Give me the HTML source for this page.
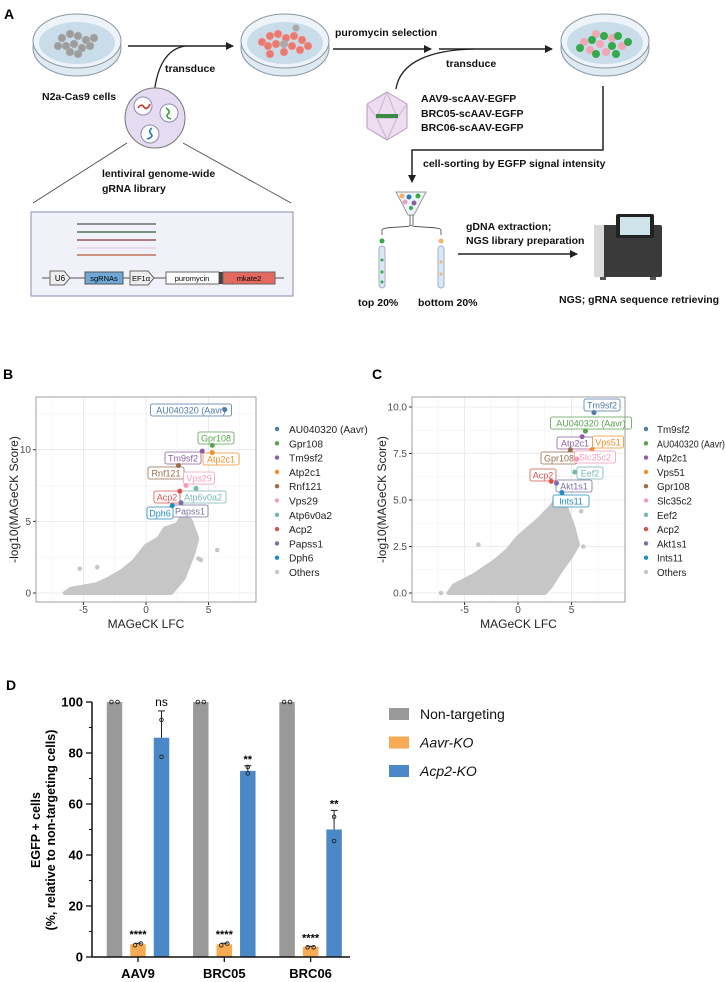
<!DOCTYPE html>
<html><head><meta charset="utf-8"><style>
html,body{margin:0;padding:0;background:#fff}
svg{display:block;font-family:"Liberation Sans",Arial,sans-serif}
.nb{font-family:"Liberation Sans Narrow","Liberation Sans",sans-serif;font-weight:bold;font-size:10.5px;fill:#111}
</style></head><body>
<svg id="fig" width="726" height="982" viewBox="0 0 726 982" xmlns="http://www.w3.org/2000/svg">
<defs>
<marker id="ah" markerWidth="8" markerHeight="8" refX="7" refY="4" orient="auto" markerUnits="userSpaceOnUse"><path d="M0,0 L8,4 L0,8 Z" fill="#222"/></marker>
</defs>
<!-- PANEL A -->
<g>
<text x="4" y="19" font-size="14" font-weight="bold">A</text>
<g>
<ellipse cx="77" cy="48" rx="44" ry="28" fill="#dfe9f1" stroke="#8a97a3"/>
<ellipse cx="77" cy="41" rx="44" ry="27" fill="#edf3f8" stroke="#8a97a3"/>
<ellipse cx="77" cy="43" rx="38" ry="21" fill="#c9dcea"/>
<g fill="#9d9d9d" stroke="#bbb" stroke-width="0.5"><circle cx="62" cy="38" r="4"/><circle cx="70" cy="34" r="4"/><circle cx="78" cy="36" r="4"/><circle cx="86" cy="40" r="4"/><circle cx="66" cy="46" r="4"/><circle cx="74" cy="44" r="4"/><circle cx="82" cy="48" r="4"/><circle cx="90" cy="46" r="4"/><circle cx="58" cy="46" r="4"/><circle cx="70" cy="52" r="4"/><circle cx="78" cy="54" r="4"/><circle cx="94" cy="38" r="4"/></g>
</g>
<line x1="128" y1="46" x2="233" y2="46" stroke="#222" stroke-width="1.5" marker-end="url(#ah)"/>
<path d="M153,116 C153,80 160,50 185,46" fill="none" stroke="#222" stroke-width="1.3"/>
<text x="165" y="72" class="nb">transduce</text>
<text x="42" y="100" class="nb">N2a-Cas9 cells</text>
<g>
<ellipse cx="285" cy="48" rx="44" ry="28" fill="#dfe9f1" stroke="#8a97a3"/>
<ellipse cx="285" cy="41" rx="44" ry="27" fill="#edf3f8" stroke="#8a97a3"/>
<ellipse cx="285" cy="43" rx="38" ry="21" fill="#c9dcea"/>
<g fill="#e87a72" stroke="#f4b0aa" stroke-width="0.5"><circle cx="262" cy="42" r="4"/><circle cx="270" cy="36" r="4"/><circle cx="278" cy="34" r="4"/><circle cx="286" cy="38" r="4"/><circle cx="294" cy="36" r="4"/><circle cx="302" cy="40" r="4"/><circle cx="268" cy="46" r="4"/><circle cx="276" cy="44" r="4"/><circle cx="292" cy="46" r="4"/><circle cx="300" cy="50" r="4"/><circle cx="270" cy="54" r="4"/><circle cx="284" cy="52" r="4"/><circle cx="308" cy="46" r="4"/></g>
<g fill="#aaa"><circle cx="284" cy="44" r="4"/><circle cx="296" cy="28" r="3.5"/></g>
</g>
<text x="335" y="36" class="nb">puromycin selection</text>
<line x1="333" y1="49" x2="431" y2="49" stroke="#222" stroke-width="1.5" marker-end="url(#ah)"/>
<line x1="439" y1="49" x2="552" y2="49" stroke="#222" stroke-width="1.5" marker-end="url(#ah)"/>
<path d="M396,89 C400,62 430,50 474,49" fill="none" stroke="#222" stroke-width="1.3"/>
<text x="446" y="67" class="nb">transduce</text>
<g>
<ellipse cx="605" cy="48" rx="44" ry="28" fill="#dfe9f1" stroke="#8a97a3"/>
<ellipse cx="605" cy="41" rx="44" ry="27" fill="#edf3f8" stroke="#8a97a3"/>
<ellipse cx="605" cy="43" rx="38" ry="21" fill="#c9dcea"/>
<g fill="#f2a6b4"><circle cx="584" cy="42" r="4"/><circle cx="596" cy="34" r="4"/><circle cx="612" cy="38" r="4"/><circle cx="622" cy="46" r="4"/><circle cx="590" cy="50" r="4"/><circle cx="606" cy="52" r="4"/><circle cx="600" cy="44" r="4"/></g>
<g fill="#36a94a"><circle cx="592" cy="40" r="4"/><circle cx="604" cy="36" r="4"/><circle cx="618" cy="36" r="4"/><circle cx="612" cy="46" r="4"/><circle cx="628" cy="42" r="4"/><circle cx="596" cy="54" r="4"/><circle cx="580" cy="48" r="4"/><circle cx="616" cy="54" r="4"/></g>
</g>
<g>
<circle cx="155" cy="118" r="30" fill="#e6dcf2" stroke="#777"/>
<circle cx="143" cy="106" r="9" fill="#fff" stroke="#8a8ab0"/><path d="M138,108 q3,-5 6,-1 t6,-3" stroke="#c0392b" stroke-width="1.6" fill="none"/>
<circle cx="169" cy="113" r="9" fill="#fff" stroke="#8a8ab0"/><path d="M166,108 q5,3 2,6 t3,5" stroke="#3a9a45" stroke-width="1.6" fill="none"/>
<circle cx="150" cy="134" r="9" fill="#fff" stroke="#8a8ab0"/><path d="M152,128 q-4,3 -1,6 t-4,5" stroke="#2b7bb9" stroke-width="1.6" fill="none"/>
</g>
<line x1="127" y1="143" x2="33" y2="203" stroke="#444" stroke-width="0.8"/>
<line x1="183" y1="143" x2="291" y2="203" stroke="#444" stroke-width="0.8"/>
<text x="102" y="177" class="nb">lentiviral genome-wide</text>
<text x="102" y="192" class="nb">gRNA library</text>
<g>
<rect x="31" y="212" width="262" height="84" fill="#f1f1f9" stroke="#8b8bb5"/>
<line x1="77" y1="224" x2="156" y2="224" stroke="#555" stroke-width="1.3"/>
<line x1="77" y1="232" x2="156" y2="232" stroke="#2d5a3a" stroke-width="1.3"/>
<line x1="77" y1="240" x2="156" y2="240" stroke="#8a3a3a" stroke-width="1.3"/>
<line x1="77" y1="248" x2="156" y2="248" stroke="#e7c9e3" stroke-width="1.3"/>
<line x1="77" y1="255" x2="156" y2="255" stroke="#b55a3a" stroke-width="1.3"/>
<line x1="42" y1="278" x2="284" y2="278" stroke="#555"/>
<path d="M50,271 h14 l6,7 l-6,7 h-14 z" fill="#eee" stroke="#666"/><text x="60" y="281" font-size="8" text-anchor="middle">U6</text>
<rect x="85" y="272" width="38" height="12" fill="#6fa8d6" stroke="#555"/><text x="104" y="281" font-size="7.5" text-anchor="middle">sgRNAs</text>
<path d="M130,271 h18 l6,7 l-6,7 h-18 z" fill="#eee" stroke="#666"/><text x="141" y="281" font-size="7.5" text-anchor="middle">EF1α</text>
<rect x="166" y="272" width="53" height="12" fill="#fff" stroke="#666"/><text x="192" y="281" font-size="7.5" text-anchor="middle">puromycin</text>
<rect x="219" y="272" width="4" height="12" fill="#444"/>
<rect x="223" y="272" width="52" height="12" fill="#e46a60" stroke="#666"/><text x="249" y="281" font-size="7.5" text-anchor="middle">mkate2</text>
</g>
<g>
<polygon points="387,92 407,104 407,128 387,140 367,128 367,104" fill="#eedcf0" stroke="#b79bc0"/>
<path d="M387,92 L377,118 L397,118 Z M377,118 L387,140 L397,118 M367,104 L377,118 M407,104 L397,118" stroke="#c9b2cf" fill="none"/>
<rect x="376" y="114" width="22" height="4" fill="#3a8a45"/>
</g>
<text x="421" y="102" class="nb">AAV9-scAAV-EGFP</text>
<text x="421" y="117" class="nb">BRC05-scAAV-EGFP</text>
<text x="421" y="131" class="nb">BRC06-scAAV-EGFP</text>
<path d="M603,86 V150 H412 V182" fill="none" stroke="#222" stroke-width="1.5" marker-end="url(#ah)"/>
<text x="423" y="167" class="nb">cell-sorting by EGFP signal intensity</text>
<g>
<path d="M396,192 L426,192 L414,215 L408,215 Z" fill="#eef3f8" stroke="#999"/>
<circle cx="402" cy="196" r="2.5" fill="#f6b26b"/><circle cx="409" cy="197" r="2.5" fill="#2b7bb9"/><circle cx="418" cy="196" r="2.5" fill="#36a94a"/><circle cx="405" cy="202" r="2.5" fill="#e9a0c0"/><circle cx="414" cy="203" r="2.5" fill="#8e5fa0"/><circle cx="411" cy="208" r="2" fill="#36a94a"/>
<path d="M410,215 V225 M413,215 V225 M411,225 C411,228 382,226 382,230 V235 M411,225 C411,228 441,226 441,230 V235" stroke="#444" fill="none" stroke-width="0.8"/>
</g>
<g><circle cx="382" cy="241" r="2.5" fill="#36a94a"/><rect x="379" y="246" width="6" height="42" rx="3" fill="#d6eaf4" stroke="#aac"/><circle cx="382" cy="260" r="1.5" fill="#36a94a"/><circle cx="382" cy="272" r="1.5" fill="#36a94a"/><circle cx="382" cy="282" r="1.5" fill="#36a94a"/></g>
<g><circle cx="441" cy="241" r="2.5" fill="#f6b26b"/><rect x="438" y="246" width="6" height="42" rx="3" fill="#d6eaf4" stroke="#aac"/><circle cx="441" cy="262" r="1.5" fill="#f6b26b"/><circle cx="441" cy="274" r="1.5" fill="#f6b26b"/></g>
<text x="358" y="306" class="nb">top 20%</text>
<text x="418" y="306" class="nb">bottom 20%</text>
<text x="466" y="230" class="nb">gDNA extraction;</text>
<text x="466" y="244" class="nb">NGS library preparation</text>
<line x1="458" y1="254" x2="577" y2="254" stroke="#222" stroke-width="1.5" marker-end="url(#ah)"/>
<g>
<rect x="594" y="225" width="68" height="52" rx="2" fill="#3a3a3a"/>
<rect x="594" y="225" width="10" height="52" fill="#d9d9d9"/>
<rect x="616" y="214" width="38" height="24" rx="2" fill="#222"/>
<rect x="620" y="217" width="30" height="18" fill="#cfe3ea"/>
<rect x="600" y="277" width="6" height="3" fill="#555"/><rect x="650" y="277" width="6" height="3" fill="#555"/>
</g>
<text x="559" y="303" class="nb">NGS; gRNA sequence retrieving</text>
</g>
<g id="panelB"></g>
<g id="panelC"></g>
<g id="panelD"></g>
</svg>
<script>
// ---------- Panel B data ----------
const bGenes = ["AU040320 (Aavr)","Gpr108","Tm9sf2","Atp2c1","Rnf121","Vps29","Atp6v0a2","Acp2","Papss1","Dph6"];
const bLFC = [6.3,5.3,4.5,5.3,2.6,3.2,4.0,2.7,2.8,2.1];
const bScore = [12.8,10.3,9.9,9.8,8.9,7.5,7.3,7.1,6.3,6.1];
const bCloudLFC = [-6.5,2,3,3.8,4.1,3.6,3,2.5,1.5,1,0,-1,-2,-3,-4,-6];
const bCloudScore = [0,0,1,2.8,3.8,5,5.5,4.8,4.5,3.8,3.3,2.2,1.5,1,0.6,0.3];
const bOutLFC = [-5.3,-3.9,5.7,4.2,-6.2,4.4,3.5];
const bOutScore = [1.7,1.8,3.0,2.4,0.1,2.3,5.1];
const bXTicks = [-5,0,5];
const bYTicks = [0,5,10];
// ---------- Panel C data ----------
const cGenes = ["Tm9sf2","AU040320 (Aavr)","Atp2c1","Vps51","Gpr108","Slc35c2","Eef2","Acp2","Akt1s1","Ints11"];
const cLFC = [7.1,6.3,6.0,6.9,4.9,5.5,5.3,3.1,3.6,4.1];
const cScore = [9.7,8.7,8.4,7.7,7.7,7.2,6.5,6.0,5.9,5.4];
const cCloudLFC = [-6.5,2.5,3,4,5,5.6,5.2,4.5,3.8,3,2,1,0,-1,-2,-4,-6];
const cCloudScore = [0,0,0.3,1.2,2,2.6,3.5,4.6,5.2,4.6,4.0,3.5,3.0,2.3,1.8,1.0,0.4];
const cOutLFC = [-7.2,-3.7,6.1,5.0,5.9,-5.5];
const cOutScore = [0,2.6,2.5,3.8,4.4,0.5];
const cXTicks = [-5,0,5];
const cYTicks = [0,2.5,5,7.5,10];
const cYTickLabels = ["0.0","2.5","5.0","7.5","10.0"];
// ---------- Panel D data ----------
const dGroups = ["AAV9","BRC05","BRC06"];
const dSeries = ["Non-targeting","Aavr-KO","Acp2-KO"];
const dNonTargeting = [100,100,100];
const dAavr = [5,5,4];
const dAcp2 = [86,73,50];
const dNonTargetingSD = [0,0,0];
const dAavrSD = [0.4,0.4,0.2];
const dAcp2SD = [10.5,2,7.5];
const dNonTargetingPts = [[100,100],[100,100],[100,100]];
const dAavrPts = [[4.6,5.3],[4.6,5.3],[3.8,3.8]];
const dAcp2Pts = [[93,78.5],[74.5,72],[55,45.5]];
const dAavrSig = ["****","****","****"];
const dAcp2Sig = ["ns","**","**"];
const dYTicks = [0,20,40,60,80,100];

const NS="http://www.w3.org/2000/svg";
function mk(parent,tag,attrs,text){const e=document.createElementNS(NS,tag);for(const k in attrs)e.setAttribute(k,attrs[k]);if(text!==undefined)e.textContent=text;parent.appendChild(e);return e;}
const geneColors=["#4e79a7","#59a14f","#8e5fa0","#f28e2b","#9c6b4e","#f59ab8","#76b7b2","#d9534f","#7a6fa8","#1f8bc4"];

function scatter(g,cfg){
  const xs=v=>cfg.px0+v*cfg.pxu, ys=v=>cfg.py0-v*cfg.pyu;
  const b=cfg.box;
  mk(g,'rect',{x:b[0],y:b[1],width:b[2]-b[0],height:b[3]-b[1],fill:'#fff'});
  for(let i=0;i<cfg.xt.length;i++){const v=cfg.xt[i]; [v-2.5,v+2.5].forEach(m=>{const X=xs(m);if(X>b[0]&&X<b[2])mk(g,'line',{x1:X,x2:X,y1:b[1],y2:b[3],stroke:'#f2f2f2','stroke-width':0.6});});}
  for(let i=0;i<cfg.yt.length;i++){const m=cfg.yt[i]+cfg.ystep/2;const Y=ys(m);if(Y>b[1]&&Y<b[3])mk(g,'line',{x1:b[0],x2:b[2],y1:Y,y2:Y,stroke:'#f2f2f2','stroke-width':0.6});}
  cfg.xt.forEach(v=>{const X=xs(v);mk(g,'line',{x1:X,x2:X,y1:b[1],y2:b[3],stroke:'#e6e6e6','stroke-width':0.8});
    const t=mk(g,'text',{x:X,y:b[3]+11,'font-size':10,fill:'#4d4d4d','text-anchor':'middle'},String(v));
    
    mk(g,'line',{x1:X,x2:X,y1:b[3],y2:b[3]+3,stroke:'#333'});});
  cfg.yt.forEach((v,i)=>{const Y=ys(v);mk(g,'line',{x1:b[0],x2:b[2],y1:Y,y2:Y,stroke:'#e6e6e6','stroke-width':0.8});
    const t=mk(g,'text',{x:b[0]-5,y:Y+3.5,'font-size':10,fill:'#4d4d4d','text-anchor':'end'},cfg.ytl[i]);
    
    mk(g,'line',{x1:b[0]-3,x2:b[0],y1:Y,y2:Y,stroke:'#333'});});
  const pts=cfg.cx.map((v,i)=>xs(v)+','+ys(cfg.cy[i])).join(' ');
  const poly=mk(g,'polygon',{points:pts,fill:'#c6c6c6',stroke:'#c6c6c6','stroke-width':4,'stroke-linejoin':'round'});
  
  cfg.ox.forEach((v,i)=>{const c=mk(g,'circle',{cx:xs(v),cy:ys(cfg.oy[i]),r:2.3,fill:'#c6c6c6'});
    });
  cfg.genes.forEach((n,i)=>{const X=xs(cfg.gx[i]),Y=ys(cfg.gy[i]);const col=geneColors[i];
    const L=cfg.lab[i];const w=n.length*5+6;
    mk(g,'line',{x1:X,y1:Y,x2:L[0],y2:L[1],stroke:col,'stroke-width':0.7});
    const r=mk(g,'rect',{x:L[0]-w/2,y:L[1]-6,width:w,height:12,rx:2,fill:'#fff',stroke:col,'stroke-width':0.8});
    
    mk(g,'text',{x:L[0],y:L[1]+3.5,'font-size':9,fill:col,'text-anchor':'middle'},n);
    const c=mk(g,'circle',{cx:X,cy:Y,r:2.5,fill:col});
    
    const lc=mk(g,'circle',{cx:cfg.legX,cy:429+i*14.3,r:2.2,fill:col});
    
    const la={x:cfg.legX+cfg.legGap,y:433+i*14.3,'font-size':cfg.legFont,fill:'#222'};
    if(n.length>12&&cfg.maxLen){la.textLength=cfg.maxLen;la.lengthAdjust='spacingAndGlyphs';}
    const lt=mk(g,'text',la,n);
    });
  const oc=mk(g,'circle',{cx:cfg.legX,cy:429+cfg.genes.length*14.3,r:2.2,fill:'#c6c6c6'});
  const ot=mk(g,'text',{x:cfg.legX+cfg.legGap,y:433+cfg.genes.length*14.3,'font-size':cfg.legFont,fill:'#222'},'Others');
  
  mk(g,'rect',{x:b[0],y:b[1],width:b[2]-b[0],height:b[3]-b[1],fill:'none',stroke:'#888','stroke-width':0.8});
  const xt=mk(g,'text',{x:(b[0]+b[2])/2,y:b[3]+26,'font-size':12,fill:'#222','text-anchor':'middle'},'MAGeCK LFC');
  
  const yy=(b[1]+b[3])/2;
  const yt=mk(g,'text',{x:cfg.ylabX,y:yy,'font-size':12,fill:'#222','text-anchor':'middle',transform:`rotate(-90 ${cfg.ylabX} ${yy})`},'-log10(MAGeCK Score)');
  
  const pl=mk(g,'text',{x:cfg.panelX,y:379,'font-size':14,'font-weight':'bold'},cfg.panel);
  
}
scatter(document.getElementById('panelB'),{px0:146,pxu:12.5,py0:593,pyu:14.33,box:[36,397,256,602],xt:bXTicks,yt:bYTicks,ytl:bYTicks.map(String),ystep:5,
  cx:bCloudLFC,cy:bCloudScore,ox:bOutLFC,oy:bOutScore,genes:bGenes,gx:bLFC,gy:bScore,
  lab:[[191,410],[216,438],[183,458],[221,459],[166,473],[199,478],[203,497],[167,497],[190,511],[160,513]],
  legX:277,legGap:12,legFont:10.2,ylabX:18,panel:'B',panelX:3});
scatter(document.getElementById('panelC'),{px0:518,pxu:10.7,py0:593,pyu:18.6,box:[412,397,625,602],xt:cXTicks,yt:cYTicks,ytl:cYTickLabels,ystep:2.5,
  cx:cCloudLFC,cy:cCloudScore,ox:cOutLFC,oy:cOutScore,genes:cGenes,gx:cLFC,gy:cScore,
  lab:[[602,405],[591,423],[575,443],[608,442],[559,458],[595,457],[590,473],[543,475],[574,486],[571,501]],
  legX:646,legGap:11,legFont:9.8,maxLen:68,ylabX:386,panel:'C',panelX:372});

// ---------- Panel D ----------
(function(){
  const g=document.getElementById('panelD');
  const y=v=>957-v*2.55;
  const gx=i=>138+i*86.3;
  const offs=[-23.5,0,23.5], cols=['#999999','#f7ab55','#4a88c7'], bw=15.5;
  const vals=[dNonTargeting,dAavr,dAcp2], sds=[dNonTargetingSD,dAavrSD,dAcp2SD], pts=[dNonTargetingPts,dAavrPts,dAcp2Pts];
  const pl=mk(g,'text',{x:6,y:690,'font-size':14,'font-weight':'bold'},'D');
  
  dGroups.forEach((name,i)=>{
    vals.forEach((arr,s)=>{
      const cx=gx(i)+offs[s];
      const r=mk(g,'rect',{x:cx-bw/2,y:y(arr[i]),width:bw,height:y(0)-y(arr[i]),fill:cols[s]});
      
      if(sds[s][i]>0){mk(g,'line',{x1:cx,x2:cx,y1:y(arr[i]),y2:y(arr[i]+sds[s][i]),stroke:'#222','stroke-width':1});
        mk(g,'line',{x1:cx-3.5,x2:cx+3.5,y1:y(arr[i]+sds[s][i]),y2:y(arr[i]+sds[s][i]),stroke:'#222','stroke-width':1});}
      pts[s][i].forEach((p,k)=>{const c=mk(g,'circle',{cx:cx+(s===2?0:(k?3:-3)),cy:y(p),r:1.8,fill:'none',stroke:'#222','stroke-width':0.9});
        });
    });
    const s1=mk(g,'text',{x:gx(i),y:y(dAavr[i]+dAavrSD[i])-5,'font-size':11,'font-weight':'bold','text-anchor':'middle'},dAavrSig[i]);
    
    const sig=dAcp2Sig[i];
    const s2=mk(g,'text',{x:gx(i)+23.5,y:y(dAcp2[i]+dAcp2SD[i])-(sig==='ns'?5:3),'font-size':sig==='ns'?12:11,'font-weight':sig==='ns'?'normal':'bold','text-anchor':'middle'},sig);
    
    mk(g,'line',{x1:gx(i),x2:gx(i),y1:957,y2:962,stroke:'#111','stroke-width':1.3});
    const xl=mk(g,'text',{x:gx(i),y:978,'font-size':13,'font-weight':'bold','text-anchor':'middle'},name);
    
  });
  mk(g,'line',{x1:92,x2:350,y1:957,y2:957,stroke:'#111','stroke-width':1.5});
  mk(g,'line',{x1:92,x2:92,y1:702,y2:957,stroke:'#111','stroke-width':1.5});
  dYTicks.forEach(v=>{mk(g,'line',{x1:86,x2:92,y1:y(v),y2:y(v),stroke:'#111','stroke-width':1.3});
    if(v<100)mk(g,'line',{x1:89,x2:92,y1:y(v+10),y2:y(v+10),stroke:'#111','stroke-width':1.1});
    const t=mk(g,'text',{x:83,y:y(v)+4.5,'font-size':13,'font-weight':'bold','text-anchor':'end'},String(v));
    });
  const a=mk(g,'text',{x:40,y:830,'font-size':12.5,'font-weight':'bold','text-anchor':'middle',transform:'rotate(-90 40 830)'},'EGFP + cells');
  
  const a2=mk(g,'text',{x:55,y:830,'font-size':12.5,'font-weight':'bold','text-anchor':'middle',transform:'rotate(-90 55 830)'},'(%, relative to non-targeting cells)');
  
  dSeries.forEach((n,s)=>{const yy=708+s*28.5;
    const sq=mk(g,'rect',{x:389,y:yy,width:20,height:12,fill:cols[s]});
    
    const t=mk(g,'text',{x:420,y:yy+11,'font-size':14,'font-style':s?'italic':'normal',fill:'#111'},n);
    });
})();
</script>
</body></html>
